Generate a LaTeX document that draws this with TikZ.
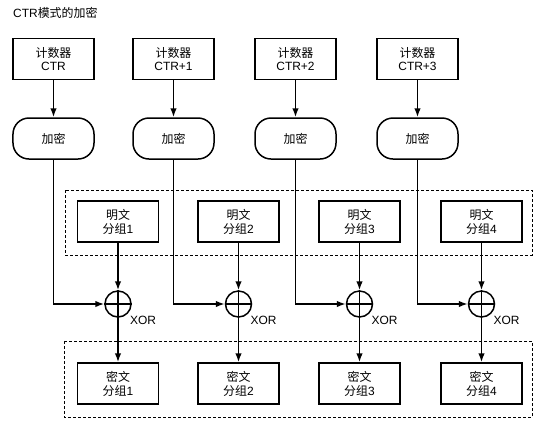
\documentclass[tikz,border=0pt]{standalone}
\usepackage{fontspec}
\setmainfont{Liberation Sans}
\newfontfamily\cjk{Noto Sans CJK SC}
\usetikzlibrary{arrows.meta}
\begin{document}
\begin{tikzpicture}[x=1bp,y=-1bp,
  font=\fontsize{12}{14}\selectfont,
  box/.style={draw,line width=1.5bp,minimum width=81bp,minimum height=41bp,align=center,inner sep=0pt},
  encbox/.style={box,rounded corners=16bp},
  xorop/.style={draw,circle,line width=1.5bp,minimum size=26bp,inner sep=0pt},
  arr/.style={line width=1.5bp,-{Latex[length=9bp,width=6.5bp]}},
  ln/.style={line width=1.5bp},
  grp/.style={draw,line width=0.8bp,dash pattern=on 3bp off 2bp},
  lbl/.style={inner sep=0pt,font=\fontsize{12}{13}\selectfont}]
\useasboundingbox (0,0) rectangle (546,430);
\node[lbl,anchor=west] (title) at (13,12.5) {CTR{\cjk 模式的加密}};
% dashed groups
\draw[grp] (65,190) rectangle (532,255);
\draw[grp] (64,341) rectangle (532,417);
% columns
\foreach \i/\cx/\px/\ctr in {1/53.5/118/CTR, 2/173.5/238.5/CTR+1, 3/295.5/359.5/CTR+2, 4/417.5/481.5/CTR+3}{
  \node[box] (c\i) at (\cx,59) {{\cjk 计数器}\\\ctr};
  \node[encbox] (e\i) at (\cx,138.5) {\cjk 加密};
  \node[box] (p\i) at (\px,221.5) {{\cjk 明文}\\{\cjk 分组}\i};
  \node[xorop] (x\i) at (\px,304) {};
  \node[box] (k\i) at (\px,383.5) {{\cjk 密文}\\{\cjk 分组}\i};
  \node[lbl,anchor=north west] (l\i) at ([xshift=12bp,yshift=-12bp]x\i.center) {XOR};
  \draw[arr] (c\i) -- (e\i);
  \draw[arr] (p\i) -- (x\i);
  \draw[arr] (x\i) -- (k\i);
  \draw[arr] (e\i.south) |- (x\i.west);
  \draw[ln] (x\i.north) -- (x\i.south) (x\i.west) -- (x\i.east);
}
\end{tikzpicture}
\end{document}
